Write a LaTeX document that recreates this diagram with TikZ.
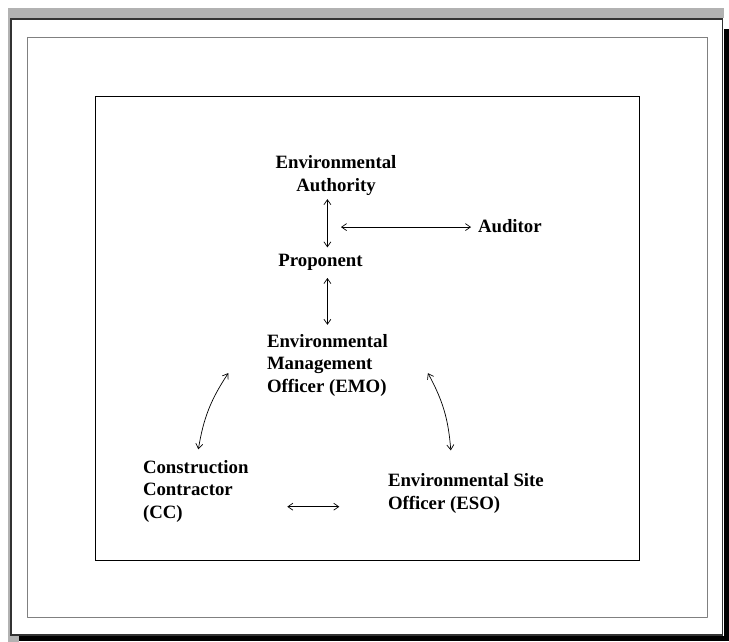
\documentclass[tikz,border=0pt]{standalone}
\usepackage{fontspec}
\setmainfont{Liberation Serif}
\usetikzlibrary{arrows.meta,calc}
\begin{document}
\begin{tikzpicture}[x=1pt,y=-1pt,
  lbl/.style={inner sep=0pt,outer sep=0pt,font=\bfseries\fontsize{18.8}{22.5}\selectfont},
  arr/.style={{Straight Barb[length=5pt,width=7pt]}-{Straight Barb[length=5pt,width=7pt]},line width=0.7pt},
  frameline/.style={line width=0.8pt}]
\useasboundingbox (0,0) rectangle (729,642);
\fill[white] (0,0) rectangle (729,642);
% page shadow and frame
\fill[gray!60] (8,8) rectangle (724,18.5);
\fill[gray!60] (8,8) rectangle (10.5,642);
\fill[gray!60] (8,636) rectangle (19,642);
\fill[black] (19,635.5) rectangle (729,641);
\fill[black] (723.5,29) rectangle (729,641);
\draw[draw=black!80,line width=1.2pt,fill=white] (11,19) rectangle (722.5,635);
\draw[gray,line width=0.8pt,dash pattern=on 0.6pt off 0.4pt] (27,37) rectangle (707,617);
\draw[frameline] (95,96) rectangle (639,560);
% nodes
\node[lbl,anchor=north,align=center] (auth) at (336,155.5) {Environmental\\Authority};
\node[lbl,anchor=base] (prop) at (320.5,266) {Proponent};
\node[lbl,anchor=base west] (aud) at (478,232) {Auditor};
\node[lbl,anchor=north west,align=left] (emo) at (267,334.3) {Environmental\\Management\\Officer (EMO)};
\node[lbl,anchor=north west,align=left] (cc) at (143,460) {Construction\\Contractor\\(CC)};
\node[lbl,anchor=north west,align=left] (eso) at (388,473.7) {Environmental Site\\Officer (ESO)};
% connectors
\draw[arr] ($(auth.south -| emo.north)+(0,4)$) -- ($(prop.north -| emo.north)+(0,-6.3)$);
\draw[arr] ($(aud.west)+(-137,1.5)$) -- ($(aud.west)+(-7,1.5)$);
\draw[arr] ($(prop.south -| emo.north)+(0,8)$) -- ($(emo.north)+(0,-9.5)$);
\draw[arr] ($(cc.north)+(2.6,-10.7)$) to[bend left=12] ($(emo.west)+(-38.7,7.8)$);
\draw[arr] ($(emo.east)+(40.1,7.8)$) to[bend left=12] ($(eso.north)+(-15.1,-23.3)$);
\coordinate (ccarr) at ($(cc.north east)+(38.8,46.7)$);
\draw[arr] (ccarr) -- ($(eso.west |- ccarr)+(-48.7,0)$);
\end{tikzpicture}
\end{document}
